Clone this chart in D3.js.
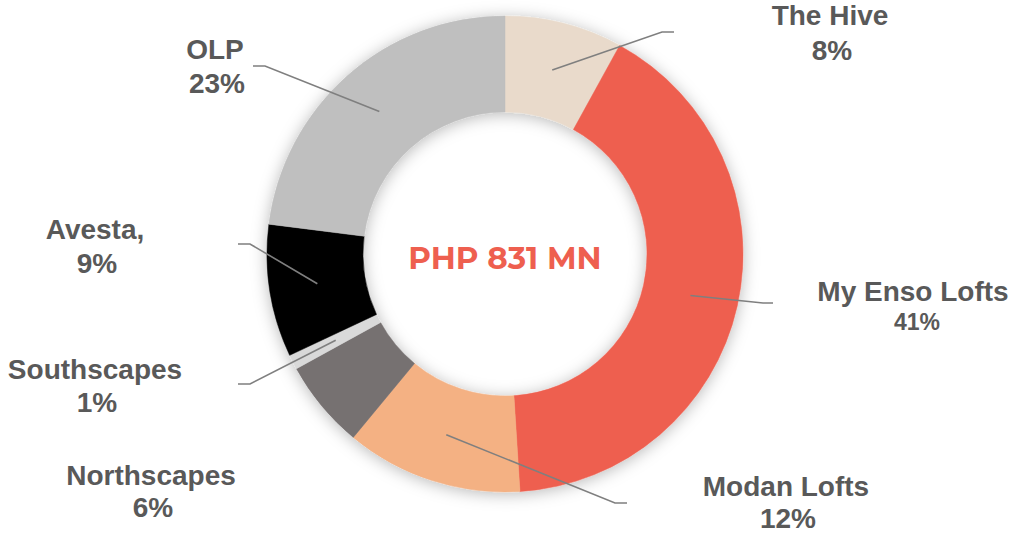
<!DOCTYPE html>
<html>
<head>
<meta charset="utf-8">
<script src="https://cdn.jsdelivr.net/npm/d3@7"></script>
<style>
  body { margin: 0; background: #fff; }
  svg { display: block; }
  .lbl { font-family: "Liberation Sans", Arial, sans-serif; font-weight: bold; fill: #595959; }
</style>
</head>
<body>
<svg id="chart" width="1015" height="534"></svg>
<script>
var names = ["The Hive", "My Enso Lofts", "Modan Lofts", "Northscapes", "Southscapes", "Avesta,", "OLP"];
var shares = [8, 41, 12, 6, 1, 9, 23];
var colors = ["#E9DACB", "#EE5F4F", "#F4B183", "#767171", "#D9D9D9", "#000000", "#BFBFBF"];
var centerText = "PHP 831 MN";

// label layout: text centre, baseline of the two lines, leader elbow
var labelLayout = [
  {x: 830, y1: 25, y2: 60, elbow: [662, 32], end: 674},
  {x: 913, y1: 301, y2: 330, elbow: [763, 303], end: 773, small: true},
  {x: 786, y1: 496, y2: 528, elbow: [615, 503], end: 627},
  {x: 151, y1: 485, y2: 517, elbow: null},
  {x: 95, y1: 379, y2: 412, elbow: [250, 384], end: 238},
  {x: 95, y1: 239, y2: 273, elbow: [250, 244], end: 238},
  {x: 215, y1: 59, y2: 93, elbow: [265, 66], end: 253}
];

var svg = d3.select("#chart"),
    cx = 505, cy = 254,
    outerR = 238, innerR = 142;

var defs = svg.append("defs");
var filt = defs.append("filter").attr("id", "shadow")
    .attr("x", "-20%").attr("y", "-20%").attr("width", "140%").attr("height", "140%");
filt.append("feDropShadow")
    .attr("dx", 0).attr("dy", 2)
    .attr("stdDeviation", 8)
    .attr("flood-color", "#000")
    .attr("flood-opacity", 0.28);

var data = names.map(function(n, i) { return {name: n, value: shares[i], color: colors[i], layout: labelLayout[i]}; });

var pie = d3.pie().sort(null).value(function(d) { return d.value; });
var arc = d3.arc().innerRadius(innerR).outerRadius(outerR);

var g = svg.append("g").attr("transform", "translate(" + cx + "," + cy + ")");

g.append("g")
  .attr("filter", "url(#shadow)")
  .selectAll("path")
  .data(pie(data))
  .enter().append("path")
    .attr("d", arc)
    .attr("fill", function(d) { return d.data.color; })
    .attr("stroke", function(d) { return d.data.color; })
    .attr("stroke-width", 0.5);

g.append("text")
  .attr("text-anchor", "middle")
  .attr("x", 0)
  .attr("y", 15)
  .attr("font-family", "Montserrat, 'Open Sans', sans-serif")
  .attr("font-weight", 700)
  .attr("font-size", 31)
  .attr("fill", "#EE5F4F")
  .text(centerText);

// leader lines
pie(data).forEach(function(d) {
  var L = d.data.layout;
  if (!L.elbow) return;
  var c = arc.centroid(d);
  var pts = [[cx + c[0], cy + c[1]], L.elbow, [L.end, L.elbow[1]]];
  svg.append("path")
    .attr("d", d3.line()(pts))
    .attr("fill", "none")
    .attr("stroke", "#7F7F7F")
    .attr("stroke-width", 1.6);
});

// labels
data.forEach(function(d) {
  var L = d.layout;
  svg.append("text").attr("class", "lbl")
    .attr("x", L.x).attr("y", L.y1)
    .attr("text-anchor", "middle")
    .attr("font-size", 28)
    .text(d.name);
  svg.append("text").attr("class", "lbl")
    .attr("x", L.x + (L.small ? 4 : 2)).attr("y", L.y2)
    .attr("text-anchor", "middle")
    .attr("font-size", L.small ? 23 : 28)
    .text(d.value + "%");
});
</script>
</body>
</html>
